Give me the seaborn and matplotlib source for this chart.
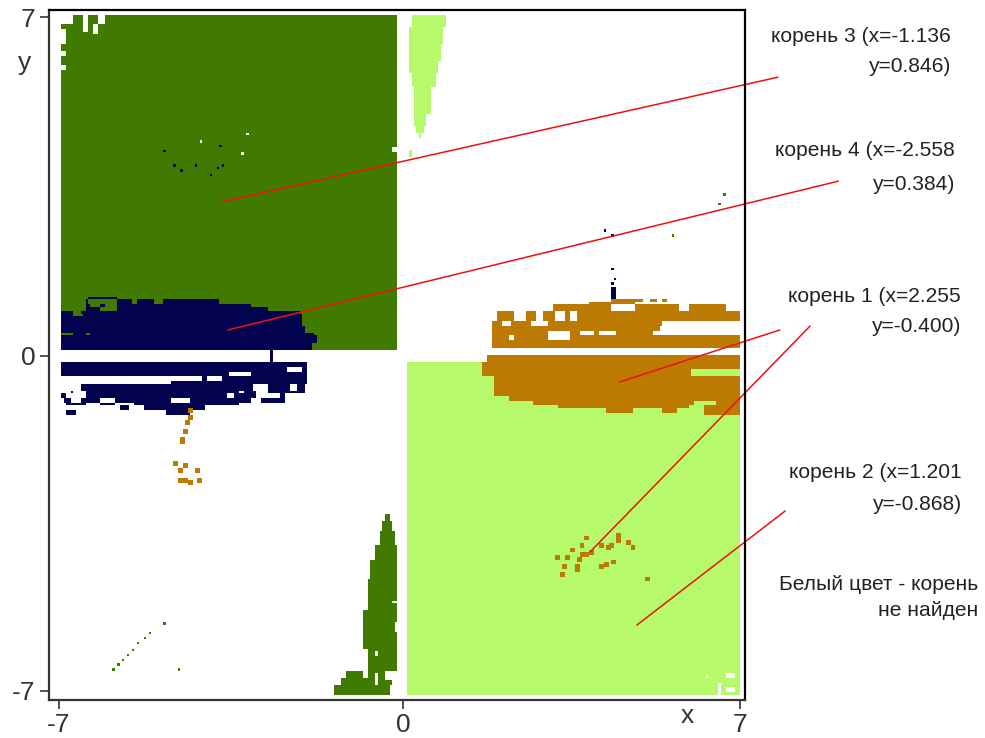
import numpy as np
import seaborn as sns
import matplotlib.pyplot as plt
from matplotlib.colors import ListedColormap

sns.set_style("white")
plt.rcParams['font.family'] = ['Liberation Sans', 'DejaVu Sans']

# each band: y top, y bottom, x spans of the region in that band
lgreen_bands = [
    (-0.15, -7.08, [(0.18, 7.01)]),
    (7.06, 6.79, [(0.27, 0.97)]), (6.79, 6.46, [(0.23, 0.93)]),
    (6.46, 6.11, [(0.21, 0.86)]), (6.11, 5.84, [(0.21, 0.80)]),
    (5.84, 5.55, [(0.27, 0.74)]), (5.55, 5.28, [(0.29, 0.68)]),
    (5.28, 5.01, [(0.31, 0.64)]), (5.01, 4.76, [(0.31, 0.58)]),
    (4.76, 4.59, [(0.35, 0.49)]), (4.59, 4.49, [(0.39, 0.45)]),
    (4.24, 4.09, [(0.23, 0.27)]),
]
green_bands = [
    (7.06, 0.06, [(-6.97, -0.02)]),
    (-3.30, -3.45, [(-0.27, -0.19)]), (-3.45, -3.66, [(-0.33, -0.14)]),
    (-3.66, -3.97, [(-0.41, -0.10)]), (-3.97, -4.28, [(-0.49, -0.06)]),
    (-4.28, -4.69, [(-0.58, -0.04)]), (-4.69, -5.11, [(-0.64, -0.02)]),
    (-5.11, -5.32, [(-0.66, -0.02)]), (-5.32, -5.73, [(-0.76, -0.02)]),
    (-5.73, -6.15, [(-0.74, -0.02)]), (-6.15, -6.56, [(-0.66, -0.04)]),
    (-6.56, -6.71, [(-1.07, -0.74), (-0.64, -0.12)]),
    (-6.71, -6.87, [(-1.21, -0.12)]), (-6.87, -7.08, [(-1.35, -0.19)]),
]
holes_bands = [
    (7.06, 6.87, [(-6.97, -6.72), (-6.50, -6.41), (-6.21, -6.04)]),
    (6.87, 6.71, [(-6.50, -6.41)]), (6.83, 6.63, [(-6.31, -6.21)]),
    (6.77, 6.42, [(-6.93, -6.83)]), (6.27, 6.21, [(-6.97, -6.85)]),
    (5.98, 5.90, [(-6.93, -6.85)]), (4.30, 4.17, [(-0.12, -0.02)]),
    (6.20, 3.50, [(-0.06, -0.02)]),
    (-5.11, -5.17, [(-0.14, -0.06)]), (-5.57, -5.78, [(-0.08, -0.02)]),
    (-6.17, -6.27, [(-0.51, -0.45)]), (-6.65, -6.87, [(-0.51, -0.45)]),
    (-6.60, -6.80, [(-0.29, -0.14)]),
    (-6.82, -7.08, [(6.55, 6.62)]), (-6.67, -6.75, [(6.30, 6.38)]),
    (-6.62, -6.72, [(6.72, 6.90)]), (-6.92, -7.02, [(6.72, 6.92)]),
]
navy_bands = [
    (1.20, 1.14, [(-6.41, -5.78)]),
    (1.14, 1.06, [(-6.46, -6.39), (-5.78, -5.47), (-5.39, -5.02), (-4.85, -3.68)]),
    (1.06, 1.00, [(-6.46, -6.35), (-6.15, -6.04), (-5.78, -3.06)]),
    (1.00, 0.91, [(-6.46, -6.15), (-5.80, -2.69)]),
    (0.91, 0.83, [(-6.97, -6.72), (-6.56, -2.04)]),
    (0.83, 0.77, [(-6.97, -6.72), (-6.52, -1.99)]),
    (0.77, 0.58, [(-6.97, -1.97)]),
    (0.58, 0.44, [(-6.97, -1.93)]),
    (0.44, 0.37, [(-6.72, -6.45), (-6.35, -1.73)]),
    (0.37, 0.25, [(-6.97, -1.71)]),
    (0.25, 0.06, [(-6.97, -1.81)]),
    (0.06, -0.15, [(-2.63, -2.59)]),
    (-0.15, -0.27, [(-6.97, -1.89)]),
    (-0.27, -0.37, [(-6.97, -2.30), (-1.99, -1.89)]),
    (-0.37, -0.46, [(-6.97, -3.47), (-3.06, -1.89)]),
    (-0.46, -0.58, [(-4.03, -3.95), (-3.62, -1.89)]),
    (-0.58, -0.64, [(-4.71, -1.89)]),
    (-0.64, -0.75, [(-6.56, -3.00), (-2.71, -2.24), (-2.08, -1.93)]),
    (-0.75, -0.83, [(-6.76, -6.70), (-6.46, -3.31), (-3.17, -2.96), (-2.71, -1.93)]),
    (-0.83, -0.91, [(-6.97, -6.87), (-6.46, -3.52), (-3.41, -2.96), (-2.45, -2.34)]),
    (-0.91, -1.02, [(-6.91, -6.76), (-6.56, -6.15), (-5.84, -4.71), (-4.30, -3.06), (-2.82, -2.34)]),
    (-1.02, -1.08, [(-6.85, -6.46), (-6.15, -5.84), (-5.43, -3.27)]),
    (-1.08, -1.18, [(-5.74, -5.53), (-5.22, -3.99)]),
    (-1.18, -1.25, [(-6.83, -6.66), (-4.81, -4.30)]),
    (1.37, 1.16, [(4.38, 4.44)]),
]
brown_bands = [
    (1.16, 1.08, [(4.38, 5.02), (5.16, 5.30), (5.43, 5.51)]),
    (1.08, 1.02, [(3.93, 4.85)]),
    (1.02, 0.91, [(3.17, 4.38), (4.85, 5.78), (5.98, 6.70)]),
    (0.91, 0.87, [(3.17, 3.41), (3.52, 4.40), (5.02, 6.20), (6.30, 6.70)]),
    (0.87, 0.71, [(2.00, 2.38), (2.60, 2.80), (2.95, 3.21), (3.41, 3.52), (3.66, 7.01)]),
    (0.71, 0.60, [(1.90, 2.12), (2.32, 2.73), (3.06, 5.40)]),
    (0.60, 0.50, [(1.93, 5.37)]),
    (0.50, 0.39, [(1.93, 3.04), (3.52, 3.72), (3.99, 4.09), (4.44, 5.20)]),
    (0.39, 0.29, [(1.93, 2.28), (2.38, 3.04), (3.52, 7.01)]),
    (0.29, 0.15, [(1.93, 7.01)]),
    (-0.04, -0.17, [(1.83, 7.01)]),
    (-0.17, -0.33, [(1.73, 7.01)]),
    (-0.33, -0.48, [(1.69, 6.00)]),
    (-0.48, -0.64, [(1.97, 7.01)]),
    (-0.64, -0.85, [(1.97, 7.01)]),
    (-0.85, -0.96, [(2.28, 7.01)]),
    (-0.96, -1.06, [(2.76, 6.04), (6.50, 7.01)]),
    (-1.06, -1.12, [(3.25, 5.98), (6.25, 7.01)]),
    (-1.12, -1.20, [(4.28, 4.81), (5.40, 5.70), (6.25, 7.01)]),
    (-1.20, -1.25, [(6.25, 7.01)]),
]
brown_x = [3.25, 3.45, 3.37, 3.35, 3.62, 3.64, 3.70, 3.76, 3.82, 3.93, 3.56, 3.72, 3.84, 4.15,
           4.30, 4.34, 4.48, 4.48, 4.71, 4.79, 4.15, 4.26, 4.38, 5.10, -4.34, -4.34, -4.36,
           -4.40, -4.48, -4.48, -4.61, -4.50, -4.40, -4.30, -4.54, -4.19, -4.44, -4.13]
brown_y = [-4.22, -4.22, -4.38, -4.53, -4.47, -4.38, -4.26, -4.17, -4.13, -4.09, -4.07, -3.95,
           -3.82, -3.97, -4.01, -3.93, -3.76, -3.86, -3.88, -4.01, -4.38, -4.36, -4.30, -4.67,
           -1.16, -1.27, -1.37, -1.60, -1.74, -1.81, -2.24, -2.41, -2.58, -2.62, -2.58, -2.41,
           -2.31, -2.58]
green_x = [-5.86, -5.76, -5.65, -5.55, -5.45, -5.35, -5.24, -5.14, -4.81, -4.50, 6.70, 6.58, 5.63]
green_y = [-6.54, -6.44, -6.33, -6.23, -6.13, -6.02, -5.92, -5.82, -5.59, -6.56, 3.30, 3.09, 2.45]
navy_x = [-4.61, -4.48, -4.15, -3.89, -3.72, -3.64, -3.66, -4.81, 4.40, 4.42, 4.38, 4.24, 4.38]
navy_y = [3.93, 3.80, 3.93, 3.72, 3.86, 3.93, 4.30, 4.22, 1.74, 1.54, 1.48, 2.58, 2.45]
white_x = [-3.13, -3.21, -4.05]
white_y = [4.57, 4.15, 4.42]

# where the labels of the original axis sit on its scale
x_ticks = [-7, 0.08, 7]
y_ticks = [7, -0.04, -7]
x_tick_labels = ['-7', '0', '7']
y_tick_labels = ['7', '0', '-7']

root_notes = [
    ("корень 3 (x=-1.136", "y=0.846)"),
    ("корень 4 (x=-2.558", "y=0.384)"),
    ("корень 1 (x=2.255", "y=-0.400)"),
    ("корень 2 (x=1.201", "y=-0.868)"),
    ("Белый цвет - корень", "не найден"),
]
leader_x = [(-3.64, 7.79), (-3.52, 9.03), (4.54, 7.83), (3.93, 8.45), (4.89, 7.94)]
leader_y = [(3.16, 5.75), (0.50, 3.59), (-0.58, 0.50), (-4.11, 0.58), (-5.63, -3.26)]

x0, x1 = -7.196, 7.113
y0, y1 = 7.146, -7.177
nx, ny = 286, 286
cells = np.zeros((ny, nx), dtype=int)


def col(x):
    return (np.asarray(x) - x0) / (x1 - x0) * nx


def row(y):
    return (y0 - np.asarray(y)) / (y0 - y1) * ny


def paint(bands, code):
    for top, bottom, spans in bands:
        for left, right in spans:
            r0, r1 = int(round(row(top))), int(round(row(bottom)))
            c0, c1 = int(round(col(left))), int(round(col(right)))
            cells[r0:r1, c0:c1] = code


def dots(xs, ys, code, size=2):
    for x, y in zip(xs, ys):
        r, c = int(row(y)), int(col(x))
        cells[r:r + size, c:c + size] = code


paint(lgreen_bands, 1)
paint(green_bands, 2)
paint(holes_bands, 0)
paint(navy_bands, 3)
paint(brown_bands, 4)
dots(brown_x, brown_y, 4)
dots(green_x, green_y, 2, size=1)
dots(navy_x, navy_y, 3, size=1)
dots(white_x, white_y, 0, size=1)

root_colors = ['#ffffff', '#b6fa6c', '#417a00', '#02024f', '#bd7a02']

fig = plt.figure(figsize=(9.85, 7.38), dpi=100)
ax = fig.add_axes([49 / 985, 1 - 699.5 / 738, 696 / 985, 689.5 / 738])
sns.heatmap(cells, ax=ax, cmap=ListedColormap(root_colors), vmin=-0.5, vmax=4.5,
            cbar=False, xticklabels=False, yticklabels=False, rasterized=True)

for s in ax.spines.values():
    s.set_visible(True)
    s.set_linewidth(1.6)
    s.set_color('#333333')
ax.spines['top'].set_color('black')
ax.spines['right'].set_color('black')

ax.set_xticks(col(x_ticks))
ax.set_xticklabels(x_tick_labels)
ax.set_yticks(row(y_ticks))
ax.set_yticklabels(y_tick_labels, rotation=0)
ax.tick_params(axis='both', length=6.5, width=1.2, color='#333333',
               labelsize=19, labelcolor='#333333', pad=3, bottom=True, left=True)
ax.text(col(5.92), row(-7.52), 'x', fontsize=19, color='#333333', ha='center', va='center', clip_on=False)
ax.text(col(-7.7), row(6.05), 'y', fontsize=19, color='#333333', ha='center', va='center', clip_on=False)

for xs, ys in zip(leader_x, leader_y):
    ax.plot(col(xs), row(ys), color='#ee1111', lw=1.1, clip_on=False)

note_right = [951, 955, 961, 962, 978]
note_top = [37, 151, 297, 472, 584]
note_gap = [30, 34, 29, 32, 26]
for (first, second), r, t, g in zip(root_notes, note_right, note_top, note_gap):
    fig.text(r / 985, 1 - t / 738, first, fontsize=15.1, color='#222222', ha='right', va='center')
    fig.text(r / 985, 1 - (t + g) / 738, second, fontsize=15.1, color='#222222', ha='right', va='center')

plt.savefig("out.png", dpi=100)
